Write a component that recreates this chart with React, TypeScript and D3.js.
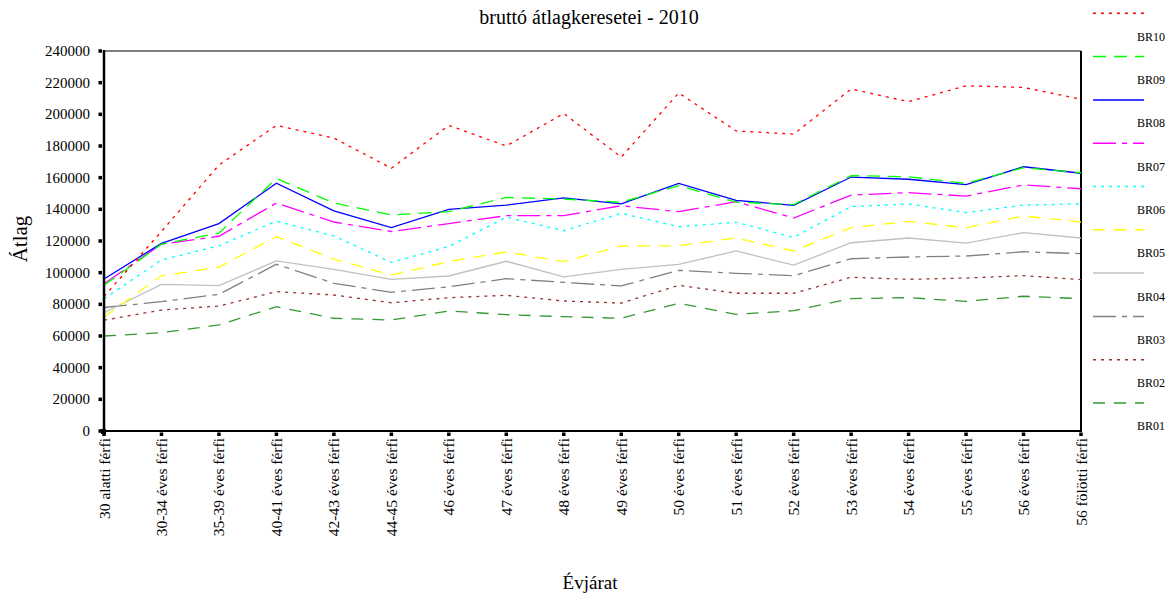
import React from "react";
import * as d3 from "d3";

const categories = [
  "30 alatti férfi", "30-34 éves férfi", "35-39 éves férfi", "40-41 éves férfi",
  "42-43 éves férfi", "44-45 éves férfi", "46 éves férfi", "47 éves férfi",
  "48 éves férfi", "49 éves férfi", "50 éves férfi", "51 éves férfi",
  "52 éves férfi", "53 éves férfi", "54 éves férfi", "55 éves férfi",
  "56 éves férfi", "56 fölötti férfi",
];

const BR10 = [85000, 126000, 168000, 193000, 185000, 166000, 193000, 180000, 200500, 173000, 213500, 189500, 187500, 216000, 208000, 218000, 217000, 209500];
const BR09 = [92000, 118000, 125000, 159500, 144000, 136500, 138500, 147500, 146500, 144500, 155000, 144500, 143000, 161300, 160600, 156400, 166300, 163100];
const BR08 = [96000, 118500, 131000, 156500, 139000, 128500, 140000, 142700, 147200, 143400, 156400, 145700, 142500, 160400, 159000, 155600, 166900, 162800];
const BR07 = [93000, 118000, 123000, 144000, 132000, 126000, 131000, 136000, 136000, 142300, 138500, 144800, 134500, 149000, 150500, 148400, 155400, 153000];
const BR06 = [83500, 108000, 117000, 132600, 123200, 106500, 116500, 135000, 126500, 137500, 129000, 131800, 122300, 141700, 143400, 137900, 142700, 143400];
const BR05 = [72000, 98000, 103500, 122700, 108600, 98500, 107000, 113100, 107000, 116800, 117000, 121900, 113700, 128400, 132400, 128400, 135800, 132000];
const BR04 = [74700, 92600, 91800, 107400, 102100, 95800, 97900, 107200, 97300, 102100, 105300, 113700, 104800, 118900, 121900, 118700, 125300, 121900];
const BR03 = [78000, 81700, 86300, 105300, 93300, 87600, 91100, 96200, 93900, 91600, 101500, 99600, 98100, 108800, 109900, 110500, 113200, 112000];
const BR02 = [70000, 76400, 78900, 88000, 85900, 81000, 84200, 85700, 82100, 80800, 92000, 87000, 87000, 97100, 95800, 96600, 98100, 95600];
const BR01 = [60000, 62100, 67000, 78500, 71200, 70100, 75800, 73500, 72200, 71200, 80700, 73700, 76000, 83600, 84200, 81900, 85100, 83600];

const yTicks = [0, 20000, 40000, 60000, 80000, 100000, 120000, 140000, 160000, 180000, 200000, 220000, 240000];

const seriesNames = ["BR10", "BR09", "BR08", "BR07", "BR06", "BR05", "BR04", "BR03", "BR02", "BR01"];
const seriesValues = [BR10, BR09, BR08, BR07, BR06, BR05, BR04, BR03, BR02, BR01];
const seriesColors = ["#ff0000", "#00ff00", "#0000ff", "#ff00ff", "#00ffff", "#ffff00", "#c0c0c0", "#808080", "#993333", "#339933"];
const seriesDash = ["3,5", "13,8", "", "23,6,5,6", "3,5", "12,9", "", "23,6,5,6", "3,5", "12,9"];

const FONT = "'Liberation Serif', 'Times New Roman', serif";

export default function App() {
  const W = 1174, H = 599;
  const left = 104, right = 1081, top = 51, bottom = 431;
  const x = d3.scalePoint<string>().domain(categories).range([left, right]);
  const y = d3.scaleLinear().domain([0, 240000]).range([bottom, top]);
  const line = d3.line<number>()
    .x((_, i) => x(categories[i]) as number)
    .y((d) => y(d));

  const legendX1 = 1093, legendX2 = 1144;
  const legendTop = 13.3, legendStep = 43.3;

  const drawOrder = [...seriesNames.keys()].reverse();

  return (
    <svg width={W} height={H} style={{ position: "absolute", left: 0, top: 0, background: "#fff" }} fontFamily={FONT}>
      <rect x={0} y={0} width={W} height={H} fill="#fff" />
      <text x={589} y={24} textAnchor="middle" fontSize={20} fill="#000">bruttó átlagkeresetei - 2010</text>

      {/* frame */}
      <line x1={left} y1={top} x2={right} y2={top} stroke="#000" strokeWidth={1.2} />
      <line x1={right} y1={top} x2={right} y2={bottom} stroke="#000" strokeWidth={2} />

      {/* series */}
      {drawOrder.map((k) => (
        <path key={seriesNames[k]} d={line(seriesValues[k]) || ""} fill="none"
          stroke={seriesColors[k]} strokeWidth={1.3} strokeDasharray={seriesDash[k] || undefined} />
      ))}

      {/* axes */}
      <line x1={left} y1={top - 1} x2={left} y2={bottom + 1} stroke="#000" strokeWidth={2.5} />
      <line x1={left - 1} y1={bottom} x2={right + 1} y2={bottom} stroke="#000" strokeWidth={2} />

      {yTicks.map((t) => (
        <g key={t}>
          <rect x={98.5} y={y(t) - 1.75} width={3.5} height={3.5} fill="#000" />
          <text x={90} y={y(t)} textAnchor="end" dominantBaseline="central" fontSize={15} fill="#000">{t}</text>
        </g>
      ))}

      {categories.map((c) => {
        const cx = x(c) as number;
        return (
          <g key={c}>
            <rect x={cx - 1.75} y={432.5} width={3.5} height={3.5} fill="#000" />
            <text transform={`translate(${cx},438) rotate(-90)`} textAnchor="end" dominantBaseline="central" fontSize={15.5} fill="#000">{c}</text>
          </g>
        );
      })}
      <rect x={left - 3} y={bottom - 2} width={5} height={5} fill="#000" />

      <text transform="translate(20,239) rotate(-90)" textAnchor="middle" dominantBaseline="central" fontSize={21} fill="#000">Átlag</text>
      <text x={590} y={589} textAnchor="middle" fontSize={19} fill="#000">Évjárat</text>

      {/* legend */}
      {seriesNames.map((n, i) => {
        const ly = legendTop + i * legendStep;
        return (
          <g key={n}>
            <line x1={legendX1} x2={legendX2} y1={ly} y2={ly} stroke={seriesColors[i]} strokeWidth={1.5}
              strokeDasharray={seriesDash[i] || undefined} />
            <text x={1137} y={ly + 23.4} dominantBaseline="central" fontSize={12} fill="#000">{n}</text>
          </g>
        );
      })}
    </svg>
  );
}
